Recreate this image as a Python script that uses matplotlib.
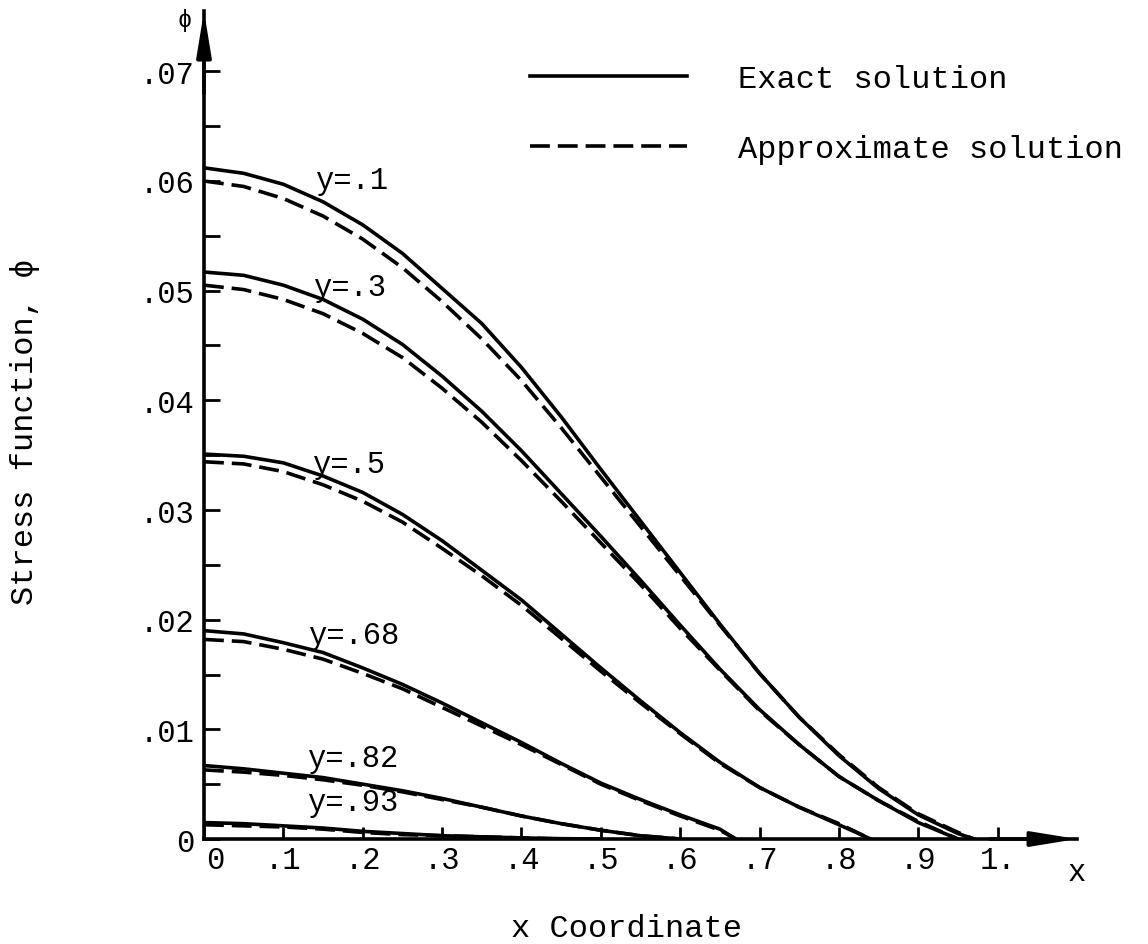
import matplotlib
matplotlib.use('Agg')
import matplotlib.pyplot as plt
from matplotlib.transforms import ScaledTranslation

# typewriter-like font for all texts
plt.rcParams['font.family'] = ['Liberation Mono', 'DejaVu Sans Mono']
plt.rcParams['font.size'] = 23

# ---- data ----
# y = .1
x_y10 = [0, .05, .1, .15, .2, .25, .3, .35, .4, .45, .5, .55, .6, .65, .7, .75, .8, .85, .9, .95, .97]
exact_y10 = [.0612, .0607, .0597, .0581, .0560, .0534, .0502, .0470, .0430, .0385, .0337,
             .0290, .0243, .0196, .0151, .0111, .0076, .0046, .0022, .0005, 0]
approx_y10 = [.0600, .0595, .0584, .0568, .0547, .0521, .0490, .0456, .0418, .0375, .0330,
              .0285, .0240, .0195, .0151, .0111, .0077, .0047, .0023, .0006, 0]

# y = .3
x_y30 = [0, .05, .1, .15, .2, .25, .3, .35, .4, .45, .5, .55, .6, .65, .7, .75, .8, .85, .9, .95]
exact_y30 = [.0517, .0514, .0505, .0492, .0474, .0451, .0422, .0390, .0354, .0315, .0276,
             .0236, .0195, .0155, .0118, .0086, .0057, .0035, .0015, 0]
approx_y30 = [.0505, .0501, .0492, .0479, .0461, .0439, .0411, .0380, .0345, .0308, .0270,
              .0232, .0192, .0154, .0117, .0086, .0057, .0035, .0016, 0]

# y = .5
x_y50 = [0, .05, .1, .15, .2, .25, .3, .35, .4, .45, .5, .55, .6, .65, .7, .75, .8, .84]
exact_y50 = [.0351, .0349, .0343, .0331, .0316, .0296, .0272, .0245, .0218, .0187, .0156,
             .0126, .0097, .0070, .0047, .0029, .0013, 0]
approx_y50 = [.0344, .0342, .0335, .0323, .0308, .0289, .0265, .0240, .0213, .0183, .0153,
              .0124, .0096, .0069, .0047, .0029, .0014, 0]

# y = .68
x_y68 = [0, .05, .1, .15, .2, .25, .3, .35, .4, .45, .5, .55, .6, .65, .67]
exact_y68 = [.0190, .0187, .0179, .0170, .0156, .0141, .0124, .0106, .0088, .0069, .0051,
             .0036, .0022, .0009, 0]
approx_y68 = [.0182, .0180, .0173, .0164, .0151, .0137, .0120, .0103, .0086, .0068, .0050,
              .0035, .0021, .0008, 0]

# y = .82
x_y82 = [0, .05, .1, .15, .2, .25, .3, .35, .4, .45, .5, .55, .6]
exact_y82 = [.0067, .0064, .0060, .0056, .0050, .0044, .0037, .0029, .0021, .0014, .0008, .0003, 0]
approx_y82 = [.0063, .0061, .0058, .0054, .0049, .0043, .0036, .0029, .0021, .0014, .0008, .0003, 0]

# y = .93
x_y93 = [0, .05, .1, .15, .2, .25, .3, .35, .4, .45, .5]
exact_y93 = [.0015, .0014, .0012, .0010, .0007, .0005, .0003, .0002, .0001, .00003, 0]
approx_y93 = [.0013, .0012, .0011, .0009, .0006, .0004, .0003, .0002, .0001, 0, 0]

# curve labels: text, x, phi (baseline)
curve_labels = ['y=.1', 'y=.3', 'y=.5', 'y=.68', 'y=.82', 'y=.93']
label_x = [.140, .137, .136, .131, .130, .130]
label_phi = [.0594, .0496, .0335, .0179, .0067, .0026]

x_ticks = [0, .1, .2, .3, .4, .5, .6, .7, .8, .9, 1.0]
x_tick_labels = ['0', '.1', '.2', '.3', '.4', '.5', '.6', '.7', '.8', '.9', '1.']
y_ticks = [0, .01, .02, .03, .04, .05, .06, .07]
y_tick_labels = ['0', '.01', '.02', '.03', '.04', '.05', '.06', '.07']
y_minor = [.005, .015, .025, .035, .045, .055, .065]

lw = 2.6
dash = (5.5, 2.2)

fig = plt.figure(figsize=(11.48, 9.45), dpi=100)
ax = fig.add_axes([0.1777, 0.1111, 0.7605, 0.8762])

curves = [(x_y10, exact_y10, approx_y10), (x_y30, exact_y30, approx_y30),
          (x_y50, exact_y50, approx_y50), (x_y68, exact_y68, approx_y68),
          (x_y82, exact_y82, approx_y82), (x_y93, exact_y93, approx_y93)]
for i, (xs, ex, ap) in enumerate(curves):
    ax.plot(xs, ex, color='black', lw=lw, label='Exact solution' if i == 0 else None)
    ax.plot(xs, ap, color='black', lw=lw, dashes=dash,
            label='Approximate solution' if i == 0 else None)

for txt, lx, lp in zip(curve_labels, label_x, label_phi):
    ax.text(lx, lp, txt, ha='left', va='baseline', fontsize=22)

ax.set_xlim(0, 1.1)
ax.set_ylim(0, 0.0755)

# only the two axes with arrows
ax.spines['top'].set_visible(False)
ax.spines['right'].set_visible(False)
ax.spines['left'].set_linewidth(2.6)
ax.spines['bottom'].set_linewidth(2.6)
arrow = dict(arrowstyle='-|>,head_length=1.35,head_width=0.22', color='black',
             lw=2.6, mutation_scale=20, shrinkA=0, shrinkB=0)
ax.annotate('', xy=(1, 0), xytext=(0.9, 0), xycoords='axes fraction', arrowprops=arrow)
ax.annotate('', xy=(0, 1), xytext=(0, 0.9), xycoords='axes fraction', arrowprops=arrow)

ax.set_xticks(x_ticks)
ax.set_xticklabels(x_tick_labels)
ax.set_yticks(y_ticks)
ax.set_yticklabels(y_tick_labels)
ax.set_yticks(y_minor, minor=True)
ax.tick_params(axis='x', direction='in', length=8.5, width=2, pad=4, labelsize=22)
ax.tick_params(axis='y', which='both', direction='in', length=11.5, width=2, pad=7, labelsize=22)

# the x "0" sits a little right of its tick, clear of the y "0"
lbl0 = ax.get_xticklabels()[0]
lbl0.set_transform(lbl0.get_transform() + ScaledTranslation(8 / 72, 0, fig.dpi_scale_trans))

# axis names
ax.text(1.1, -0.0016, 'x', ha='center', va='top', fontsize=22)
ax.text(-0.022, 0.99, '\u03d5', transform=ax.transAxes, ha='center', va='center', fontsize=17)
ax.set_xlabel('x Coordinate', va='baseline')
ax.xaxis.set_label_coords(0.4834, -0.1175)
ax.set_ylabel('Stress function, \u03d5', va='baseline')
ax.yaxis.set_label_coords(-0.196, 0.493)

leg = ax.legend(loc='upper left', bbox_to_anchor=(530 / 1148, 1 - 65 / 945),
                bbox_transform=fig.transFigure, frameon=False, fontsize=23,
                handlelength=4.9, handletextpad=1.6, labelspacing=1.25,
                borderpad=0, borderaxespad=0)

fig.savefig('out.png', dpi=100, facecolor='white')
